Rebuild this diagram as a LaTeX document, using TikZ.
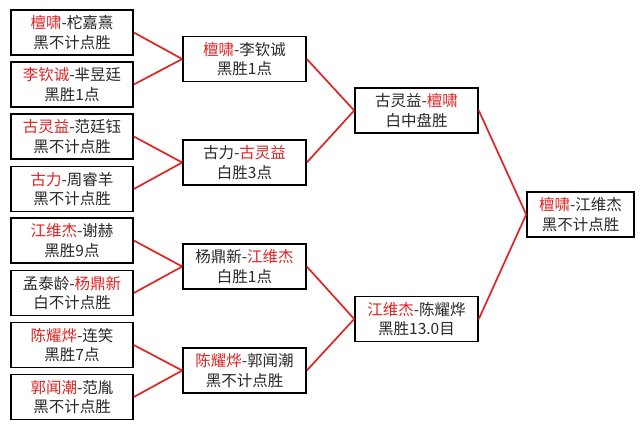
\documentclass[tikz,border=0pt]{standalone}
\usepackage{fontspec}
\setmainfont{Noto Sans CJK SC}
\usepackage{tikz}
\definecolor{winred}{RGB}{225,35,35}
\definecolor{textgray}{RGB}{40,40,40}
\tikzset{
    game/.style={draw=black, line width=1.6pt, fill=white, text=textgray, align=center,
        minimum width=122pt, minimum height=45pt, inner sep=0pt,
        font=\fontsize{15.5}{19.5}\selectfont},
    link/.style={draw=winred, line width=1.7pt}
}
\newcommand{\wn}[1]{\textcolor{winred}{#1}}

\begin{document}
\begin{tikzpicture}[x=1pt, y=-1pt]
                    \useasboundingbox (0,0) rectangle (644,429);

                    % first round
                    \node[game] (r1a) at (72, 32.5) {\wn{檀啸}-柁嘉熹\\黑不计点胜};
                    \node[game] (r1b) at (72, 84.5) {\wn{李钦诚}-芈昱廷\\黑胜1点};
                    \node[game] (r1c) at (72, 136.5) {\wn{古灵益}-范廷钰\\黑不计点胜};
                    \node[game] (r1d) at (72, 189) {\wn{古力}-周睿羊\\黑不计点胜};
                    \node[game] (r1e) at (72, 240.5) {\wn{江维杰}-谢赫\\黑胜9点};
                    \node[game] (r1f) at (72, 293) {孟泰龄-\wn{杨鼎新}\\白不计点胜};
                    \node[game] (r1g) at (72, 345) {\wn{陈耀烨}-连笑\\黑胜7点};
                    \node[game] (r1h) at (72, 397) {\wn{郭闻潮}-范胤\\黑不计点胜};

                    % second round
                    \node[game, minimum width=123pt] (r2a) at (244.5, 59) {\wn{檀啸}-李钦诚\\黑胜1点};
                    \node[game, minimum width=123pt] (r2b) at (244.5, 162.5) {古力-\wn{古灵益}\\白胜3点};
                    \node[game, minimum width=123pt] (r2c) at (244.5, 266.5) {杨鼎新-\wn{江维杰}\\白胜1点};
                    \node[game, minimum width=123pt] (r2d) at (244.5, 370.5) {\wn{陈耀烨}-郭闻潮\\黑不计点胜};

                    % semifinals
                    \node[game, minimum width=123pt] (r3a) at (416.5, 110.5) {古灵益-\wn{檀啸}\\白中盘胜};
                    \node[game, minimum width=123pt] (r3b) at (416.5, 319) {\wn{江维杰}-陈耀烨\\黑胜13.0目};

                    % final
                    \node[game, minimum width=107pt] (r4) at (580.5, 214.5) {\wn{檀啸}-江维杰\\黑不计点胜};

                    \foreach \a/\b in {r1a/r2a, r1b/r2a, r1c/r2b, r1d/r2b, r1e/r2c, r1f/r2c, r1g/r2d, r1h/r2d,
                                       r2a/r3a, r2b/r3a, r2c/r3b, r2d/r3b, r3a/r4, r3b/r4}
                        \draw[link] (\a.east) -- (\b.west);
                \end{tikzpicture}
\end{document}
